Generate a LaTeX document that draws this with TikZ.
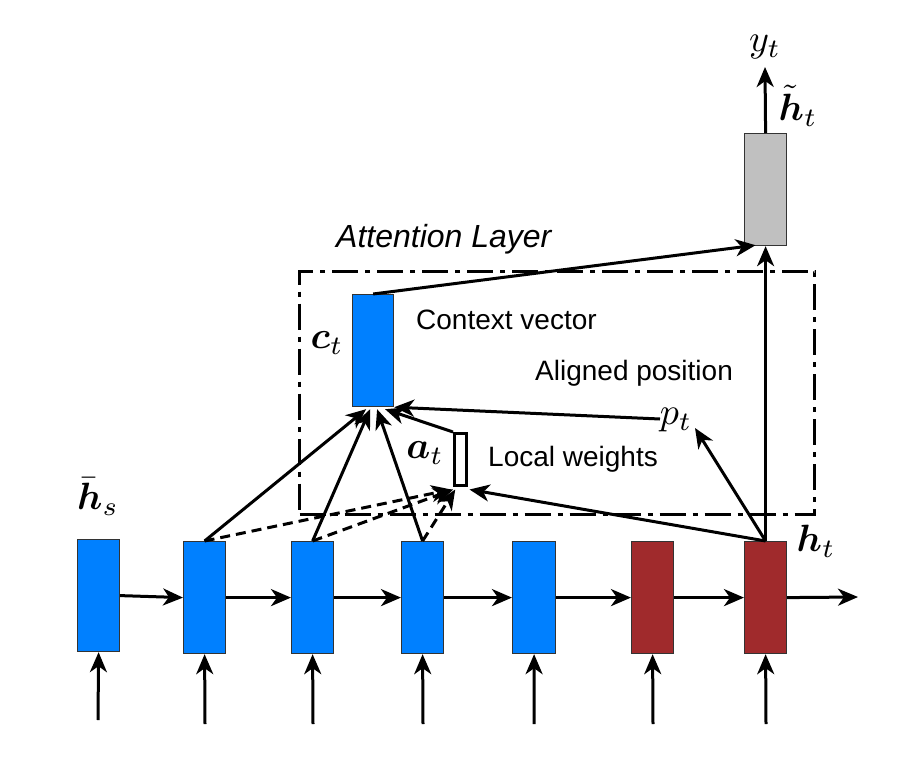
\documentclass[tikz,border=0pt]{standalone}
\usepackage{graphicx}
\usepackage{amsmath,bm}
\usepackage{fontspec}
\setmainfont{Liberation Sans}
\usetikzlibrary{arrows.meta,calc}
\definecolor{cellblue}{RGB}{0,128,255}
\definecolor{cellred}{RGB}{160,42,44}
\definecolor{cellgray}{RGB}{192,192,192}
\newcommand{\bigmath}[1]{\scalebox{3.8}{\fontsize{10}{12}\selectfont$#1$}}
\tikzset{
  cell/.style={draw=black!80, line width=1.2pt, minimum width=42pt, minimum height=112pt, inner sep=0pt, anchor=north west},
  bluecell/.style={cell, fill=cellblue},
  redcell/.style={cell, fill=cellred},
  graycell/.style={cell, fill=cellgray},
  arr/.style={line width=3pt, -{Stealth[length=20pt,width=17pt,inset=6pt]}},
  darr/.style={arr, dash pattern=on 10pt off 6pt},
  txt/.style={anchor=base west, inner sep=0pt},
  lbl/.style={inner sep=0pt},
}
\begin{document}
\begin{tikzpicture}[x=1pt,y=-1pt, font=\fontsize{28}{34}\selectfont]
\useasboundingbox (0,0) rectangle (923,762);

% attention layer frame
\node[draw, line width=3pt, dash pattern=on 26pt off 7pt on 5pt off 7pt,
      minimum width=515pt, minimum height=243pt, inner sep=0pt, anchor=north west] (attn) at (298,270) {};

% encoder / decoder cells
\node[bluecell] (b0) at (77,539) {};
\node[bluecell] (b1) at (183,541) {};
\node[bluecell] (b2) at (291,541) {};
\node[bluecell] (b3) at (401,541) {};
\node[bluecell, minimum width=43pt] (b4) at (512,541) {};
\node[redcell] (b5) at (631,541) {};
\node[redcell] (b6) at (744,541) {};
\node[graycell] (g) at (744,133) {};
\node[bluecell, minimum width=41pt] (ct) at (352,294) {};
\node[cell, draw=black, line width=2.5pt, fill=white, minimum width=12pt, minimum height=52pt] (at) at (453,432) {};

% labels
\node[lbl] (yt) at (765,47) {\bigmath{y_t}};
\node[lbl] (htl) at (798,106) {\bigmath{\tilde{\bm{h}}_t}};
\node[lbl] (ctl) at (327,343) {\bigmath{\bm{c}_t}};
\node[lbl] (atl) at (425,453) {\bigmath{\bm{a}_t}};
\node[lbl] (pt) at (676,420) {\bigmath{p_t}};
\node[lbl] (hl) at (816,541) {\bigmath{\bm{h}_t}};
\node[lbl] (hsl) at (98,497) {\bigmath{\bar{\bm{h}}_s}};
\node[txt] (cv) at (416,329) {Context vector};
\node[txt] (al) at (535,380) {Aligned position};
\node[txt] (lw) at (488,466) {Local weights};
\node[txt, font=\fontsize{32}{38}\selectfont\itshape] (attl) at (336,247) {Attention Layer};

% input arrows
\coordinate (in0) at (98,720);
\coordinate (in1) at (205,724);
\coordinate (in2) at (313,724);
\coordinate (in3) at (423,724);
\coordinate (in4) at (534,724);
\coordinate (in5) at (653,724);
\coordinate (in6) at (766,724);
\foreach \i in {0,...,6} { \draw[arr] (in\i) -- (b\i.south); }

% recurrent arrows
\draw[arr] (b0.east) -- (b1.west);
\draw[arr] (b1.east) -- (b2.west);
\draw[arr] (b2.east) -- (b3.west);
\draw[arr] (b3.east) -- (b4.west);
\draw[arr] (b4.east) -- (b5.west);
\draw[arr] (b5.east) -- (b6.west);
\coordinate (out) at (858,597);
\draw[arr] (b6.east) -- (out);

% dashed to local weights
\draw[darr] (b1.north) -- ($(at.south)+(-9,3)$);
\draw[darr] (b2.north) -- ($(at.south)+(-7,3)$);
\draw[darr] (b3.north) -- ($(at.south)+(-5,3)$);

% solid to context vector
\draw[arr] (b1.north) -- ($(ct.south)+(-7,2)$);
\draw[arr] (b2.north) -- ($(ct.south)+(-3,2)$);
\draw[arr] (b3.north) -- ($(ct.south)+(4,2)$);
\draw[arr] (at.north west) -- ($(ct.south)+(12,2)$);
\coordinate (ptl) at (660,419);
\draw[arr] (ptl) -- (ct.south east);

% from h_t
\coordinate (pttip) at (695,428);
\draw[arr] (b6.north) -- ($(at.south east)+(2,3)$);
\draw[arr] (b6.north) -- (pttip);
\draw[arr] (b6.north) -- (g.south);

% context to attentional hidden state
\draw[arr] (ct.north) -- ($(g.south)+(-10,-1)$);

% output
\coordinate (ytip) at (765,67);
\draw[arr] (g.north) -- (ytip);
\end{tikzpicture}
\end{document}
